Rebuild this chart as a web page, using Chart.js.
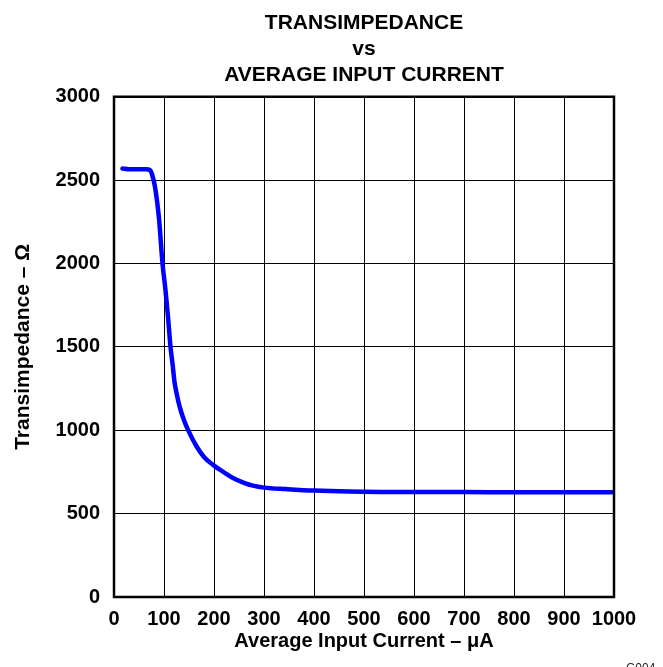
<!DOCTYPE html>
<html>
<head>
<meta charset="utf-8">
<script src="https://cdn.jsdelivr.net/npm/chart.js@4/dist/chart.umd.min.js"></script>
<style>
  html, body { margin: 0; padding: 0; background: #fff; }
  canvas { display: block; }
</style>
</head>
<body>
<canvas id="c" width="663" height="667"></canvas>
<script>
// Data
const currentUA = [17, 30, 50, 65, 72, 76, 82, 90, 97, 103, 108, 113, 117, 121, 126, 131, 140, 148, 165, 180, 200, 220, 238, 260, 278, 300, 345, 400, 470, 550, 700, 850, 1000];
const transimpedanceOhm = [2570, 2565, 2565, 2565, 2560, 2535, 2460, 2270, 2000, 1840, 1680, 1500, 1400, 1290, 1210, 1145, 1060, 1002, 904, 840, 788, 748, 714, 685, 668, 656, 647, 638, 632, 630, 629, 628, 628];
const xTicks = [0, 100, 200, 300, 400, 500, 600, 700, 800, 900, 1000];
const yTicks = [0, 500, 1000, 1500, 2000, 2500, 3000];
const titleLines = ['TRANSIMPEDANCE', 'vs', 'AVERAGE INPUT CURRENT'];
const xTitle = 'Average Input Current – μA';
const yTitle = 'Transimpedance – Ω';
const footNote = 'G004';

const FONT = "'Liberation Sans', Arial, Helvetica, sans-serif";

const points = currentUA.map((x, i) => ({ x: x, y: transimpedanceOhm[i] }));

const frame = {
  id: 'frame',
  afterDatasetsDraw(chart) {
    const { ctx, chartArea: a } = chart;
    ctx.save();
    ctx.strokeStyle = '#000';
    ctx.lineWidth = 2.5;
    ctx.strokeRect(a.left, a.top, a.right - a.left, a.bottom - a.top);
    ctx.restore();
  },
  afterDraw(chart) {
    const ctx = chart.ctx;
    ctx.save();
    ctx.fillStyle = '#222';
    ctx.font = '12px ' + FONT;
    ctx.textBaseline = 'alphabetic';
    ctx.textAlign = 'left';
    ctx.fillText(footNote, 626, 672);
    ctx.restore();
  }
};

new Chart(document.getElementById('c'), {
  type: 'scatter',
  data: {
    datasets: [{
      data: points,
      showLine: true,
      borderColor: '#0000ff',
      backgroundColor: '#0000ff',
      borderWidth: 4.5,
      pointRadius: 0,
      cubicInterpolationMode: 'monotone',
      borderCapStyle: 'round',
      borderJoinStyle: 'round'
    }]
  },
  options: {
    responsive: false,
    animation: false,
    devicePixelRatio: 1,
    layout: { padding: { left: 0, right: 49, top: 0, bottom: 0 } },
    plugins: {
      legend: { display: false },
      tooltip: { enabled: false },
      title: {
        display: true,
        fullSize: false,
        text: titleLines,
        color: '#000',
        font: { family: FONT, size: 21, weight: 'bold', lineHeight: 1.25 },
        padding: { top: 10, bottom: 8 }
      }
    },
    scales: {
      x: {
        type: 'linear',
        min: 0, max: 1000,
        afterBuildTicks: (s) => { s.ticks = xTicks.map(v => ({ value: v })); },
        afterFit: (s) => { s.height = 70; },
        grid: { color: '#000', lineWidth: 1, drawTicks: false },
        border: { display: false },
        ticks: {
          color: '#000', padding: 10, maxRotation: 0, autoSkip: false,
          callback: (v) => String(v),
          font: { family: FONT, size: 20, weight: 'bold' }
        },
        title: {
          display: true, text: xTitle, color: '#000',
          font: { family: FONT, size: 20, weight: 'bold', lineHeight: 1.2 },
          padding: { top: 0, bottom: 14 }
        }
      },
      y: {
        type: 'linear',
        min: 0, max: 3000,
        afterBuildTicks: (s) => { s.ticks = yTicks.map(v => ({ value: v })); },
        afterFit: (s) => { s.width = 114; },
        grid: { color: '#000', lineWidth: 1, drawTicks: false },
        border: { display: false },
        ticks: {
          color: '#000', padding: 14, autoSkip: false,
          callback: (v) => String(v),
          font: { family: FONT, size: 20, weight: 'bold' }
        },
        title: {
          display: true, text: yTitle, color: '#000',
          font: { family: FONT, size: 21, weight: 'bold', lineHeight: 1.2 },
          padding: { top: 11, bottom: 0 }
        }
      }
    }
  },
  plugins: [frame]
});
</script>
</body>
</html>
